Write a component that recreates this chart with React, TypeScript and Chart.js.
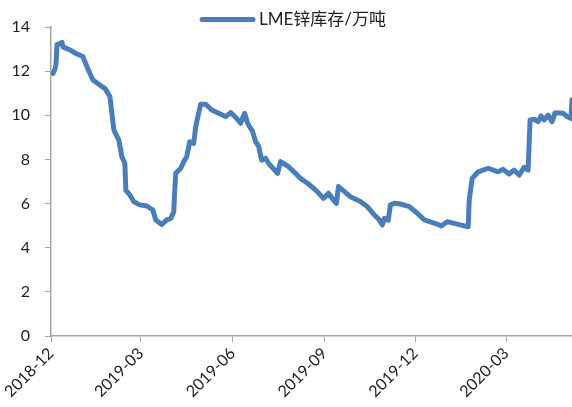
import React, { useEffect, useRef } from "react";
import { Chart, registerables } from "chart.js";

Chart.register(...registerables);

const seriesLabel = "LME锌库存/万吨";

const dates: string[] = [
  "2018-12-03", "2018-12-05", "2018-12-06", "2018-12-07", "2018-12-10", "2018-12-12", "2018-12-13",
  "2018-12-20", "2018-12-26", "2019-01-02", "2019-01-06", "2019-01-12", "2019-01-21", "2019-01-24",
  "2019-01-29", "2019-02-02", "2019-02-07", "2019-02-10", "2019-02-13", "2019-02-14", "2019-02-18",
  "2019-02-22", "2019-02-28", "2019-03-07", "2019-03-13", "2019-03-16", "2019-03-22", "2019-03-27",
  "2019-03-31", "2019-04-03", "2019-04-04", "2019-04-05", "2019-04-10", "2019-04-13", "2019-04-16",
  "2019-04-19", "2019-04-23", "2019-04-25", "2019-04-26", "2019-04-30", "2019-05-05", "2019-05-11",
  "2019-05-18", "2019-05-25", "2019-05-30", "2019-06-04", "2019-06-09", "2019-06-13", "2019-06-16",
  "2019-06-21", "2019-06-24", "2019-06-27", "2019-06-30", "2019-07-04", "2019-07-07", "2019-07-16",
  "2019-07-19", "2019-07-27", "2019-08-03", "2019-08-08", "2019-08-15", "2019-08-23", "2019-08-31",
  "2019-09-05", "2019-09-10", "2019-09-13", "2019-09-15", "2019-09-19", "2019-09-27", "2019-10-07",
  "2019-10-14", "2019-10-21", "2019-10-26", "2019-10-29", "2019-10-31", "2019-11-04", "2019-11-06",
  "2019-11-10", "2019-11-16", "2019-11-25", "2019-12-03", "2019-12-10", "2019-12-23", "2019-12-27",
  "2020-01-02", "2020-01-09", "2020-01-18", "2020-01-23", "2020-01-24", "2020-01-27", "2020-02-02",
  "2020-02-12", "2020-02-22", "2020-02-27", "2020-03-04", "2020-03-09", "2020-03-14", "2020-03-19",
  "2020-03-23", "2020-03-25", "2020-03-29", "2020-04-02", "2020-04-05", "2020-04-08", "2020-04-12",
  "2020-04-16", "2020-04-19", "2020-04-27", "2020-05-02", "2020-05-05", "2020-05-06",
];

const stocks: number[] = [
  11.9, 12.1, 12.3, 13.2, 13.25, 13.3, 13.1,
  12.96, 12.8, 12.66, 12.2, 11.6, 11.3, 11.22,
  10.85, 9.33, 8.88, 8.12, 7.82, 6.6, 6.39,
  6.08, 5.94, 5.89, 5.71, 5.26, 5.05, 5.26,
  5.33, 5.63, 6.62, 7.37, 7.6, 7.9, 8.12,
  8.8, 8.73, 9.48, 9.71, 10.5, 10.5, 10.24,
  10.09, 9.94, 10.12, 9.91, 9.64, 10.09, 9.64,
  9.26, 8.8, 8.6, 7.97, 8.05, 7.82, 7.37,
  7.9, 7.67, 7.37, 7.14, 6.92, 6.62, 6.24,
  6.47, 6.16, 6.01, 6.77, 6.62, 6.31, 6.09,
  5.86, 5.48, 5.26, 5.03, 5.33, 5.25, 5.94,
  6.01, 5.98, 5.86, 5.56, 5.26, 5.07, 4.98,
  5.18, 5.1, 5.0, 4.95, 6.16, 7.14, 7.44,
  7.6, 7.44, 7.55, 7.34, 7.52, 7.29, 7.64,
  7.52, 9.79, 9.82, 9.71, 9.97, 9.79, 10.01,
  9.71, 10.12, 10.09, 9.91, 9.86, 10.7,
];

const tickDates: string[] = ["2018-12-01", "2019-03-01", "2019-06-01", "2019-09-01", "2019-12-01", "2020-03-01"];
const tickLabels: string[] = ["2018-12", "2019-03", "2019-06", "2019-09", "2019-12", "2020-03"];

const yTicks: number[] = [0, 2, 4, 6, 8, 10, 12, 14];

const BASE = Date.UTC(2018, 11, 1);
const toDay = (s: string) => {
  const [y, m, d] = s.split("-").map(Number);
  return (Date.UTC(y, m - 1, d) - BASE) / 86400000;
};

const LINE_COLOR = "#4a7ebb";
const AXIS_COLOR = "#a6a6a6";
const TEXT_COLOR = "#222222";
const FONT = "Lato, 'Noto Sans CJK SC', sans-serif";

const legendPlugin = {
  id: "customLegend",
  afterDraw(chart: any) {
    const ctx = chart.ctx;
    const ds = chart.data.datasets[0];
    ctx.save();
    const y = 19.5;
    ctx.strokeStyle = ds.borderColor;
    ctx.lineWidth = 5;
    ctx.lineCap = "round";
    ctx.beginPath();
    ctx.moveTo(202, y);
    ctx.lineTo(253, y);
    ctx.stroke();
    ctx.fillStyle = TEXT_COLOR;
    ctx.font = `17px ${FONT}`;
    ctx.textAlign = "left";
    ctx.textBaseline = "middle";
    ctx.fillText(ds.label, 259, y + 0.5);
    ctx.restore();
  },
};

export default function App() {
  const ref = useRef<HTMLCanvasElement | null>(null);
  useEffect(() => {
    document.body.style.margin = "0";
    const canvas = ref.current;
    if (!canvas) return;
    const points = dates.map((d, i) => ({ x: toDay(d), y: stocks[i] }));
    const tickVals = tickDates.map(toDay);
    const chart = new Chart(canvas, {
      type: "line",
      data: {
        datasets: [
          {
            label: seriesLabel,
            data: points,
            borderColor: LINE_COLOR,
            backgroundColor: LINE_COLOR,
            borderWidth: 5,
            pointRadius: 0,
            tension: 0,
            borderJoinStyle: "round",
            borderCapStyle: "round",
            fill: false,
          },
        ],
      },
      options: {
        responsive: false,
        animation: false,
        layout: { padding: { top: 27, left: 0, right: 0, bottom: 0 } },
        plugins: { legend: { display: false }, tooltip: { enabled: false } },
        scales: {
          x: {
            type: "linear",
            min: 0,
            max: toDay(dates[dates.length - 1]),
            afterBuildTicks: (scale: any) => {
              scale.ticks = tickVals.map((v) => ({ value: v }));
            },
            afterFit: (scale: any) => {
              scale.height = 71;
            },
            grid: { drawOnChartArea: false, drawTicks: true, tickLength: 6, color: AXIS_COLOR },
            border: { display: true, color: AXIS_COLOR, width: 1.5 },
            ticks: {
              autoSkip: false,
              minRotation: 45,
              maxRotation: 45,
              padding: 2,
              color: TEXT_COLOR,
              font: { family: FONT, size: 16 },
              callback: (value: any) => {
                const i = tickVals.indexOf(Number(value));
                return i >= 0 ? tickLabels[i] : "";
              },
            },
          },
          y: {
            min: 0,
            max: 14,
            afterBuildTicks: (scale: any) => {
              scale.ticks = yTicks.map((v) => ({ value: v }));
            },
            afterFit: (scale: any) => {
              scale.width = 51;
            },
            grid: { drawOnChartArea: false, drawTicks: true, tickLength: 6, color: AXIS_COLOR },
            border: { display: true, color: AXIS_COLOR, width: 1.5 },
            ticks: {
              padding: 15,
              color: TEXT_COLOR,
              font: { family: FONT, size: 16 },
            },
          },
        },
      },
      plugins: [legendPlugin],
    } as any);
    return () => chart.destroy();
  }, []);
  return (
    <div style={{ width: 572, height: 407 }}>
      <canvas ref={ref} width={572} height={407} />
    </div>
  );
}
